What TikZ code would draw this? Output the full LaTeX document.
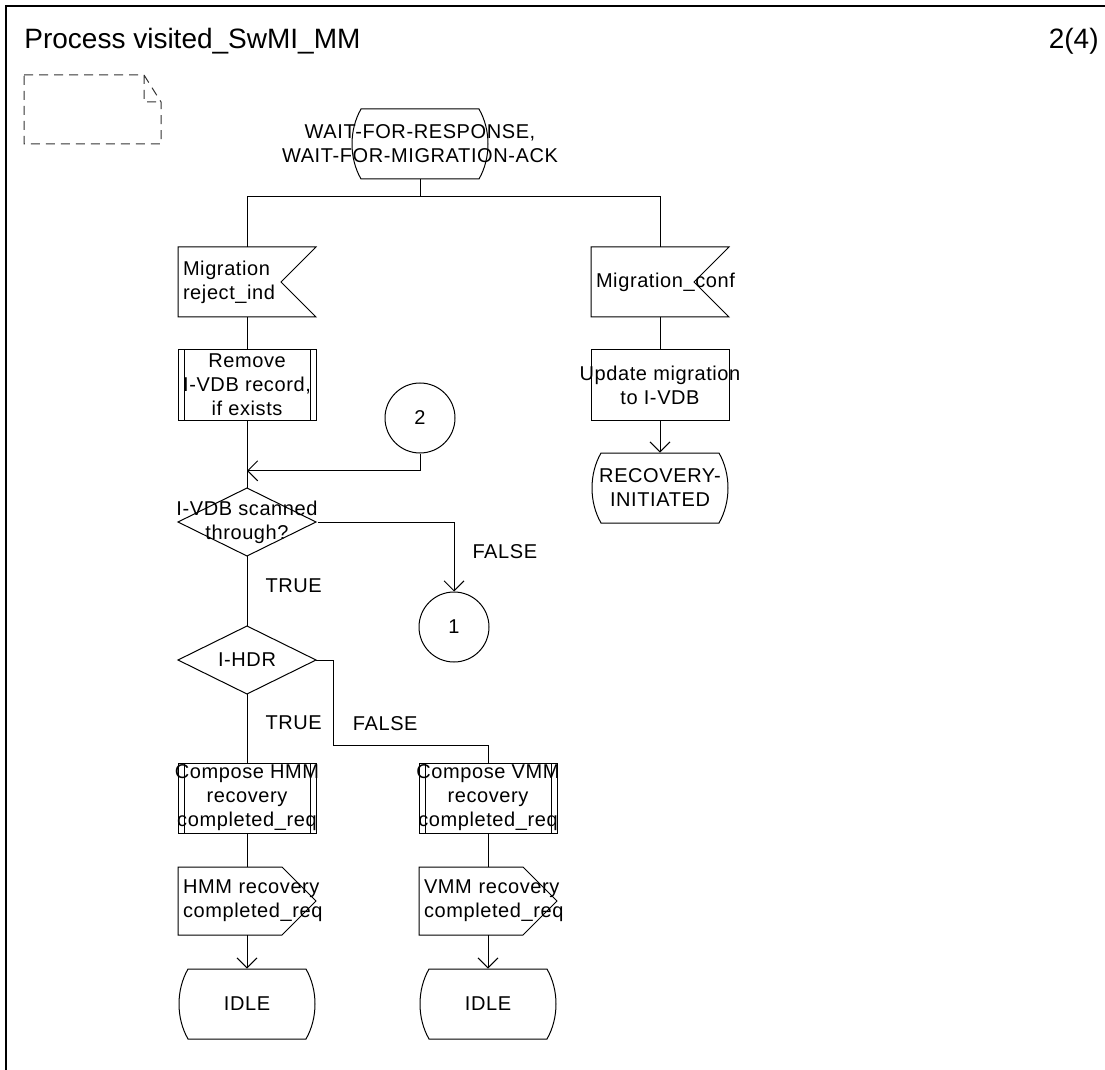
\documentclass[tikz,border=0pt]{standalone}
\usepackage{fontspec}
\setmainfont{Liberation Sans}
\newfontfamily\sdlfam{Liberation Sans}[LetterSpace=3]
\newcommand{\sdlfont}{\sdlfam\fontsize{10}{12}\selectfont}
\newcommand{\titlefont}{\fontsize{14}{16.8}\selectfont}
\usetikzlibrary{arrows.meta, positioning, calc}

\tikzset{
  sdlline/.style  = {line width=0.5pt},
  flow/.style     = {sdlline},
  arr/.style      = {sdlline, -{Straight Barb[length=5pt, width=10pt]}},
  lbl/.style      = {font=\sdlfont, inner sep=0pt},
  heading/.style  = {font=\titlefont, inner sep=0pt},
  sdlbox/.style   = {rectangle, on grid, inner sep=0pt, minimum width=69pt,
                     minimum height=35pt, align=center, font=\sdlfont},
  insig/.style    = {sdlbox, text width=64pt, inner xsep=2.5pt, align=left,
                     append after command={\pgfextra{\draw[sdlline, shift={(\tikzlastnode.center)}]
                       (-34.5,17.5) -- (34.5,17.5) -- (17,0) -- (34.5,-17.5) -- (-34.5,-17.5) -- cycle;}}},
  outsig/.style   = {sdlbox, minimum height=34pt, text width=64pt, inner xsep=2.5pt, align=left,
                     append after command={\pgfextra{\draw[sdlline, shift={(\tikzlastnode.center)}]
                       (-34.5,17) -- (17.5,17) -- (34.5,0) -- (17.5,-17) -- (-34.5,-17) -- cycle;}}},
  task/.style     = {sdlbox,
                     append after command={\pgfextra{\draw[sdlline, shift={(\tikzlastnode.center)}]
                       (-34.5,17.5) rectangle (34.5,-17.5);}}},
  proc/.style     = {sdlbox,
                     append after command={\pgfextra{\draw[sdlline, shift={(\tikzlastnode.center)}]
                       (-34.5,17.5) rectangle (34.5,-17.5)
                       (-31.5,17.5) -- (-31.5,-17.5) (31.5,17.5) -- (31.5,-17.5);}}},
  decision/.style = {sdlbox, minimum height=34pt,
                     append after command={\pgfextra{\draw[sdlline, shift={(\tikzlastnode.center)}]
                       (0,17) -- (34.5,0) -- (0,-17) -- (-34.5,0) -- cycle;}}},
  state/.style    = {sdlbox,
                     append after command={\pgfextra{\draw[sdlline, shift={(\tikzlastnode.center)}]
                       (-29.5,17.5) -- (29.5,17.5) .. controls (35.5,7) and (35.5,-7) .. (29.5,-17.5)
                       -- (-29.5,-17.5) .. controls (-35.5,-7) and (-35.5,7) .. (-29.5,17.5) -- cycle;}}},
  conn/.style     = {circle, on grid, draw, sdlline, minimum size=35pt, inner sep=0pt, font=\sdlfont},
  note/.style     = {rectangle, minimum width=68.5pt, minimum height=34.5pt, inner sep=0pt,
                     append after command={\pgfextra{\draw[sdlline, black!80, dash pattern=on 4.5pt off 3pt,
                       shift={(\tikzlastnode.center)}]
                       (-34.25,17.25) -- (25.75,17.25) -- (34.25,3.75) -- (34.25,-17.25) -- (-34.25,-17.25) -- cycle
                       (25.75,17.25) -- (25.75,3.75) -- (34.25,3.75);}}}
}

\begin{document}
\begin{tikzpicture}[x=1pt, y=1pt]

\useasboundingbox (0,0) rectangle (552.5,-535);
\draw[line width=1pt] (552.5,-3) -- (3,-3) -- (3,-535);

\node[heading, anchor=base west] (title) at (12,-24.5)    {Process visited\_SwMI\_MM};
\node[heading, anchor=base east] (page)  at (549.5,-24.5) {2(4)};
\node[note] (memo) at (46.25,-54.75) {};

% start state and the two inputs
\node[state] (wait) at (210,-72) {WAIT-FOR-RESPONSE,\\WAIT-FOR-MIGRATION-ACK};
\node[insig] (rej)  at (123.5,-141)            {Migration\\reject\_ind};
\node[insig] (conf) [right=206.5pt of rej]     {\mbox{Migration\_conf}};

% left branch
\node[proc]     (rmv)  [below=51.5pt of rej]   {Remove\\I-VDB record,\\if exists};
\node[conn]     (c2)   [below right=16.5pt and 86.5pt of rmv] {2};
\node[decision] (scan) [below=68.5pt of rmv]   {I-VDB scanned\\through?};
\node[conn]     (c1)   [below right=52.5pt and 103.5pt of scan] {1};
\node[decision] (hdr)  [below=69pt of scan]    {I-HDR};
\node[proc]     (chmm) [below=69pt of hdr]     {Compose HMM\\recovery\\completed\_req};
\node[outsig]   (ohmm) [below=51.5pt of chmm]  {\mbox{HMM recovery}\\\mbox{completed\_req}};
\node[state]    (idle1)[below=51.5pt of ohmm]  {IDLE};
\node[proc]     (cvmm) [right=120.5pt of chmm] {Compose VMM\\recovery\\completed\_req};
\node[outsig]   (ovmm) [below=51.5pt of cvmm]  {\mbox{VMM recovery}\\\mbox{completed\_req}};
\node[state]    (idle2)[below=51.5pt of ovmm]  {IDLE};

% right branch
\node[task]  (upd) [below=51.5pt of conf] {Update migration\\to I-VDB};
\node[state] (rec) [below=51.5pt of upd]  {RECOVERY-\\INITIATED};

\coordinate (join) at ($(rmv.south)!0.75!(scan.north)$);

\draw[flow] (wait.south) -- ++(0,-8.5) -| (rej.north);
\draw[flow] (wait.south) -- ++(0,-8.5) -| (conf.north);
\draw[flow] (rej)  -- (rmv);
\draw[flow] (rmv)  -- (scan);
\draw[arr]  (c2.south) |- (join);
\draw[flow] (scan) -- node[lbl, pos=0.43, right=9pt] {TRUE} (hdr);
\draw[arr]  (scan.east) -| node[lbl, pos=0.71, right=9pt] {FALSE} (c1.north);
\draw[flow] (hdr)  -- node[lbl, pos=0.42, right=9pt] {TRUE} (chmm);
\draw[flow] (hdr.east) -- ++(8.5,0) |- node[lbl, pos=0.37, right=9.5pt] {FALSE}
            ($(cvmm.north)+(0,8.5)$) -- (cvmm.north);
\draw[flow] (chmm) -- (ohmm);
\draw[arr]  (ohmm) -- (idle1);
\draw[flow] (cvmm) -- (ovmm);
\draw[arr]  (ovmm) -- (idle2);

\draw[flow] (conf) -- (upd);
\draw[arr]  (upd)  -- (rec);

\end{tikzpicture}
\end{document}
